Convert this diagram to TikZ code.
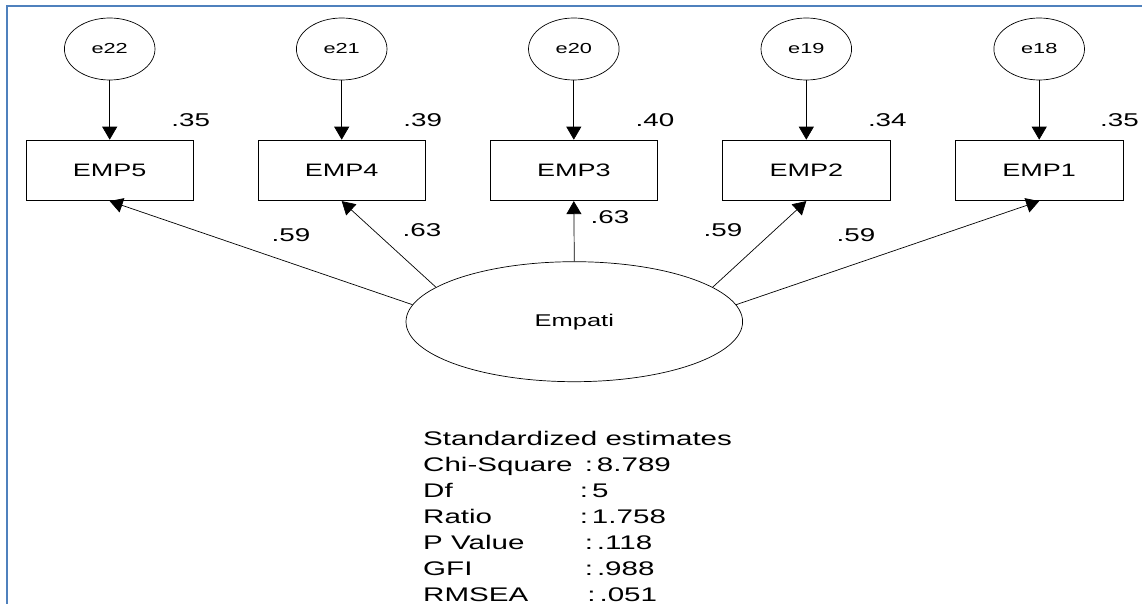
\documentclass[tikz,border=0pt]{standalone}
\usepackage{fontspec}
\setmainfont{Liberation Sans}
\newfontfamily\amos[FakeStretch=1.5]{Liberation Sans}
\usetikzlibrary{arrows.meta,shapes.geometric}
\definecolor{frameblue}{RGB}{79,129,189}
\newcommand\fitrow[3]{\makebox[#1pt][l]{#2}:\hspace{4pt}#3}
\begin{document}
\begin{tikzpicture}[x=1pt,y=-1pt,
  errvar/.style={draw, ellipse, line width=0.7pt, minimum width=90.6pt,
    minimum height=62pt, inner sep=0pt, font=\amos\fontsize{14.5}{16}\selectfont},
  obsvar/.style={draw, rectangle, line width=0.7pt, minimum width=167.3pt,
    minimum height=60.7pt, inner sep=0pt, font=\amos\fontsize{18}{20}\selectfont},
  latvar/.style={draw, ellipse, line width=0.7pt, minimum width=336.6pt,
    minimum height=120pt, inner sep=0pt, font=\amos\fontsize{17}{19}\selectfont},
  patharrow/.style={line width=0.7pt, -{Triangle[length=13pt,width=15pt]}},
  est/.style={inner sep=0pt, font=\amos\fontsize{18.5}{20}\selectfont},
  fitline/.style={anchor=base west, inner sep=0pt, font=\amos\fontsize{19.7}{24}\selectfont},
]
\useasboundingbox (0,0) rectangle (1142,604);

% frame (top and left rules)
\draw[frameblue, line width=2pt] (6.8,604) -- (6.8,5.7) -- (1142,5.7);

% error terms
\node[errvar] (e22) at (109.7,49) {e22};
\node[errvar] (e21) at (341.7,49) {e21};
\node[errvar] (e20) at (573.8,49) {e20};
\node[errvar] (e19) at (806.3,49) {e19};
\node[errvar] (e18) at (1039.2,49) {e18};

% observed indicators
\node[obsvar] (emp5) at (109.7,170.4) {EMP5};
\node[obsvar] (emp4) at (341.7,170.4) {EMP4};
\node[obsvar] (emp3) at (573.8,170.4) {EMP3};
\node[obsvar] (emp2) at (806.3,170.4) {EMP2};
\node[obsvar] (emp1) at (1039.2,170.4) {EMP1};

% latent construct
\node[latvar] (lat) at (574.3,321.7) {Empati};

% residual paths
\draw[patharrow] (e22.south) -- (emp5.north);
\draw[patharrow] (e21.south) -- (emp4.north);
\draw[patharrow] (e20.south) -- (emp3.north);
\draw[patharrow] (e19.south) -- (emp2.north);
\draw[patharrow] (e18.south) -- (emp1.north);

% factor loadings
\draw[patharrow] (lat.174) -- (emp5.south);
\draw[patharrow] (lat.166) -- (emp4.south);
\draw[patharrow] (lat.north) -- (emp3.south);
\draw[patharrow] (lat.14) -- (emp2.south);
\draw[patharrow] (lat.6) -- (emp1.south);

% squared multiple correlations
\node[est] (r5) at (190.7,120) {.35};
\node[est] (r4) at (422.7,120) {.39};
\node[est] (r3) at (655,120) {.40};
\node[est] (r2) at (887.3,120) {.34};
\node[est] (r1) at (1119.5,120) {.35};

% loading estimates
\node[est] (l5) at (291,235) {.59};
\node[est] (l4) at (422,230) {.63};
\node[est] (l3) at (610,217) {.63};
\node[est] (l2) at (723,230) {.59};
\node[est] (l1) at (856,235) {.59};

% fit summary
\node[fitline] (f0) at (423,445) {Standardized estimates};
\node[fitline] (f1) at (423,471.1) {\fitrow{161.6}{Chi-Square}{8.789}};
\node[fitline] (f2) at (423,497.2) {\fitrow{156.6}{Df}{5}};
\node[fitline] (f3) at (423,523.3) {\fitrow{156.6}{Ratio}{1.758}};
\node[fitline] (f4) at (423,549.4) {\fitrow{161.6}{P Value}{.118}};
\node[fitline] (f5) at (423,575.5) {\fitrow{161.6}{GFI}{.988}};
\node[fitline] (f6) at (423,601.6) {\fitrow{164.2}{RMSEA}{.051}};
\end{tikzpicture}
\end{document}
